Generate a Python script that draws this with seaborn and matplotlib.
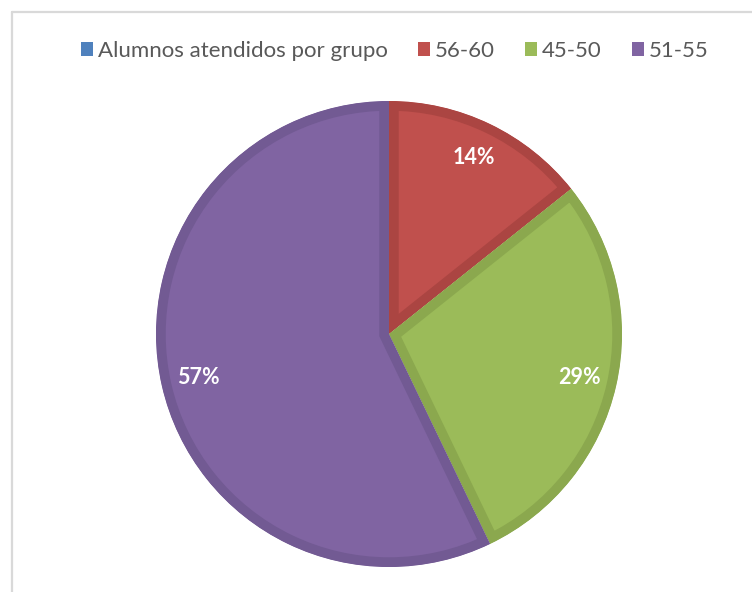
import matplotlib
matplotlib.use("Agg")
import matplotlib.pyplot as plt
from matplotlib.lines import Line2D
from matplotlib.patches import Patch
import seaborn as sns

categories = ["Alumnos atendidos por grupo", "56-60", "45-50", "51-55"]
values = [0, 1, 2, 4]
face_colors = ["#4F81BD", "#C0504D", "#9BBB59", "#8064A2"]
edge_colors = ["#3F6A9E", "#AB4542", "#8BA84E", "#725A93"]

sns.set_theme(style="white")
plt.rcParams["font.family"] = ["Lato", "DejaVu Sans"]

W, H = 752, 592
fig = plt.figure(figsize=(W / 100, H / 100), dpi=100)
ax = fig.add_axes([0, 0, 1, 1])

def fmt(p):
    return f"{p:.0f}%" if p > 0.5 else ""

wedges, texts, autotexts = ax.pie(
    values,
    colors=face_colors,
    startangle=90,
    counterclock=False,
    center=(389, 258),
    radius=233,
    autopct=fmt,
    pctdistance=0.84,
    wedgeprops=dict(linewidth=14, joinstyle="miter"),
    textprops=dict(color="white", fontsize=15.5, fontweight="bold"),
    frame=True,
)
ax.set_xlim(0, W)
ax.set_ylim(0, H)
ax.set_axis_off()
for w, ec, v in zip(wedges, edge_colors, values):
    w.set_edgecolor(ec)
    w.set_clip_on(True)
    w.set_clip_path(w.get_path(), ax.transData)  # keep only the inner half of the stroke
    if v == 0:
        w.set_linewidth(0)

# chart frame
ax.add_line(Line2D([11.5, W], [H - 11.5, H - 11.5], color="#D9D9D9", lw=1.6))
ax.add_line(Line2D([11.5, 11.5], [0, H - 11.5], color="#D9D9D9", lw=1.6))

fs = 16
fs_px = fs * 100 / 72
handles = [Patch(facecolor=c, edgecolor="none") for c in face_colors]
leg = ax.legend(
    handles, categories,
    loc="center", bbox_to_anchor=(395 / W, 1 - 51 / H), bbox_transform=fig.transFigure,
    ncol=4, frameon=False, fontsize=fs,
    handlelength=12 / fs_px, handleheight=13 / fs_px,
    handletextpad=5 / fs_px, columnspacing=30 / fs_px,
    borderaxespad=0, borderpad=0,
)
for t in leg.get_texts():
    t.set_color("#595959")

fig.savefig("out.png", dpi=100)
